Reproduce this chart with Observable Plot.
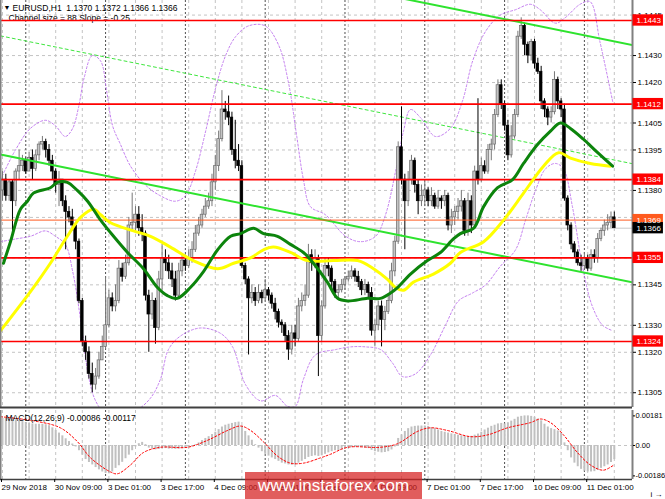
<!DOCTYPE html>
<html><head><meta charset="utf-8">
<script src="https://cdn.jsdelivr.net/npm/d3@7"></script>
<script src="https://cdn.jsdelivr.net/npm/@observablehq/plot@0.6"></script>
<style>
html,body{margin:0;padding:0;background:#fff;}
#chart{position:relative;width:665px;height:499px;overflow:hidden;background:#fff;}
#main{position:absolute;left:0;top:0;}
#macd{position:absolute;left:0;top:408px;}
#wm{position:absolute;left:245px;top:472px;width:177px;height:30px;background:rgba(214,30,30,0.72);color:#fff;font-family:'Liberation Sans',Arial,sans-serif;font-size:17px;line-height:28px;text-align:center;}
svg text{white-space:pre;}
</style></head><body>
<div id="chart"><div id="main"></div><div id="macd"></div><div id="wm">www.instaforex.com</div></div>
<script>
// ---------- DATA ----------
const opens = [1.1380,1.1384,1.1378,1.1383,1.1376,1.1387,1.1389,1.1391,1.1387,1.1392,
1.1388,1.1393,1.1397,1.1398,1.1395,1.1391,1.1387,1.1382,1.1384,1.1376,
1.1372,1.1370,1.1367,1.1361,1.1339,1.1324,1.1320,1.1312,1.1308,1.1311,
1.1317,1.1322,1.1330,1.1340,1.1337,1.1339,1.1351,1.1348,1.1353,1.1367,
1.1368,1.1371,1.1366,1.1364,1.1341,1.1334,1.1339,1.1329,1.1347,1.1355,
1.1353,1.1350,1.1347,1.1341,1.1350,1.1354,1.1352,1.1355,1.1358,1.1364,
1.1367,1.1371,1.1374,1.1376,1.1383,1.1389,1.1399,1.1410,1.1409,1.1407,
1.1395,1.1391,1.1389,1.1352,1.1347,1.1340,1.1342,1.1339,1.1342,1.1340,
1.1343,1.1341,1.1338,1.1335,1.1331,1.1330,1.1326,1.1321,1.1327,1.1325,
1.1337,1.1339,1.1341,1.1356,1.1353,1.1355,1.1326,1.1337,1.1352,1.1351,
1.1346,1.1342,1.1343,1.1345,1.1347,1.1348,1.1350,1.1348,1.1346,1.1343,
1.1345,1.1342,1.1328,1.1330,1.1337,1.1332,1.1335,1.1339,1.1350,1.1361,
1.1396,1.1384,1.1376,1.1384,1.1391,1.1382,1.1376,1.1378,1.1380,1.1376,
1.1378,1.1374,1.1377,1.1376,1.1378,1.1367,1.1370,1.1372,1.1374,1.1376,
1.1365,1.1376,1.1367,1.1387,1.1384,1.1389,1.1387,1.1395,1.1397,1.1408,
1.1419,1.1412,1.1404,1.1393,1.1400,1.1408,1.1437,1.1441,1.1434,1.1430,
1.1435,1.1427,1.1424,1.1413,1.1410,1.1407,1.1409,1.1421,1.1413,1.1410,
1.1377,1.1367,1.1360,1.1357,1.1353,1.1352,1.1355,1.1351,1.1356,1.1355,
1.1362,1.1365,1.1367,1.1368,1.1370];
const highs = [1.1387,1.1386,1.1384,1.1384,1.1388,1.1395,1.1393,1.1392,1.1394,1.1395,
1.1395,1.1398,1.1400,1.1399,1.1397,1.1393,1.1388,1.1387,1.1384,1.1378,
1.1374,1.1373,1.1368,1.1362,1.1340,1.1326,1.1322,1.1316,1.1314,1.1320,
1.1326,1.1348,1.1343,1.1342,1.1345,1.1354,1.1353,1.1356,1.1370,1.1379,
1.1374,1.1374,1.1371,1.1365,1.1343,1.1342,1.1340,1.1350,1.1360,1.1358,
1.1356,1.1353,1.1350,1.1353,1.1356,1.1356,1.1358,1.1361,1.1367,1.1370,
1.1373,1.1377,1.1379,1.1386,1.1393,1.1402,1.1417,1.1413,1.1415,1.1409,
1.1406,1.1397,1.1391,1.1353,1.1348,1.1345,1.1344,1.1345,1.1343,1.1347,
1.1344,1.1342,1.1340,1.1336,1.1332,1.1331,1.1328,1.1330,1.1330,1.1340,
1.1342,1.1345,1.1360,1.1358,1.1358,1.1356,1.1339,1.1355,1.1355,1.1352,
1.1347,1.1345,1.1347,1.1348,1.1350,1.1352,1.1351,1.1350,1.1347,1.1347,
1.1346,1.1344,1.1332,1.1339,1.1339,1.1337,1.1341,1.1353,1.1363,1.1398,
1.1411,1.1386,1.1387,1.1393,1.1392,1.1384,1.1382,1.1383,1.1381,1.1381,
1.1379,1.1380,1.1378,1.1380,1.1379,1.1373,1.1374,1.1377,1.1380,1.1377,
1.1379,1.1378,1.1389,1.1414,1.1392,1.1391,1.1397,1.1399,1.1410,1.1421,
1.1421,1.1413,1.1406,1.1404,1.1410,1.1439,1.1444,1.1442,1.1435,1.1436,
1.1436,1.1429,1.1426,1.1414,1.1411,1.1411,1.1424,1.1422,1.1414,1.1412,
1.1378,1.1368,1.1361,1.1358,1.1356,1.1357,1.1356,1.1358,1.1358,1.1364,
1.1366,1.1369,1.1371,1.1372,1.1372];
const lows = [1.1376,1.1376,1.1376,1.1364,1.1374,1.1384,1.1387,1.1386,1.1387,1.1384,
1.1387,1.1391,1.1395,1.1392,1.1389,1.1384,1.1379,1.1374,1.1374,1.1358,
1.1368,1.1365,1.1358,1.1338,1.1322,1.1317,1.1310,1.1305,1.1306,1.1310,
1.1317,1.1321,1.1329,1.1335,1.1335,1.1338,1.1346,1.1347,1.1352,1.1365,
1.1364,1.1363,1.1361,1.1339,1.1320,1.1332,1.1323,1.1328,1.1343,1.1350,
1.1347,1.1344,1.1339,1.1340,1.1348,1.1350,1.1351,1.1353,1.1357,1.1363,
1.1366,1.1370,1.1373,1.1374,1.1380,1.1387,1.1398,1.1406,1.1404,1.1393,
1.1388,1.1387,1.1351,1.1345,1.1319,1.1338,1.1337,1.1338,1.1338,1.1339,
1.1339,1.1336,1.1332,1.1329,1.1327,1.1324,1.1317,1.1319,1.1322,1.1324,
1.1335,1.1337,1.1340,1.1350,1.1351,1.1311,1.1324,1.1336,1.1348,1.1343,
1.1340,1.1340,1.1342,1.1343,1.1346,1.1347,1.1346,1.1344,1.1341,1.1341,
1.1340,1.1326,1.1322,1.1328,1.1322,1.1328,1.1334,1.1338,1.1348,1.1360,
1.1382,1.1358,1.1374,1.1382,1.1379,1.1371,1.1374,1.1374,1.1374,1.1374,
1.1373,1.1373,1.1373,1.1374,1.1365,1.1364,1.1367,1.1369,1.1372,1.1363,
1.1363,1.1364,1.1366,1.1382,1.1383,1.1386,1.1386,1.1391,1.1395,1.1407,
1.1410,1.1402,1.1391,1.1392,1.1399,1.1407,1.1436,1.1430,1.1427,1.1428,
1.1425,1.1423,1.1410,1.1407,1.1404,1.1405,1.1408,1.1410,1.1407,1.1376,
1.1365,1.1358,1.1355,1.1352,1.1350,1.1351,1.1350,1.1350,1.1353,1.1353,
1.1361,1.1363,1.1365,1.1366,1.1366];
const closes = [1.1384,1.1378,1.1383,1.1376,1.1387,1.1389,1.1391,1.1387,1.1392,1.1388,
1.1393,1.1397,1.1398,1.1395,1.1391,1.1387,1.1382,1.1384,1.1376,1.1372,
1.1370,1.1367,1.1361,1.1339,1.1324,1.1320,1.1312,1.1308,1.1311,1.1317,
1.1322,1.1330,1.1340,1.1337,1.1339,1.1351,1.1348,1.1353,1.1367,1.1368,
1.1371,1.1366,1.1364,1.1341,1.1334,1.1339,1.1329,1.1347,1.1355,1.1353,
1.1350,1.1347,1.1341,1.1350,1.1354,1.1352,1.1355,1.1358,1.1364,1.1367,
1.1371,1.1374,1.1376,1.1383,1.1389,1.1399,1.1410,1.1409,1.1407,1.1395,
1.1391,1.1389,1.1352,1.1347,1.1340,1.1342,1.1339,1.1342,1.1340,1.1343,
1.1341,1.1338,1.1335,1.1331,1.1330,1.1326,1.1321,1.1327,1.1325,1.1337,
1.1339,1.1341,1.1356,1.1353,1.1355,1.1326,1.1337,1.1352,1.1351,1.1346,
1.1342,1.1343,1.1345,1.1347,1.1348,1.1350,1.1348,1.1346,1.1343,1.1345,
1.1342,1.1328,1.1330,1.1337,1.1332,1.1335,1.1339,1.1350,1.1361,1.1396,
1.1384,1.1376,1.1384,1.1391,1.1382,1.1376,1.1378,1.1380,1.1376,1.1378,
1.1374,1.1377,1.1376,1.1378,1.1367,1.1370,1.1372,1.1374,1.1376,1.1365,
1.1376,1.1367,1.1387,1.1384,1.1389,1.1387,1.1395,1.1397,1.1408,1.1419,
1.1412,1.1404,1.1393,1.1400,1.1408,1.1437,1.1441,1.1434,1.1430,1.1435,
1.1427,1.1424,1.1413,1.1410,1.1407,1.1409,1.1421,1.1413,1.1410,1.1377,
1.1367,1.1360,1.1357,1.1353,1.1352,1.1355,1.1351,1.1356,1.1355,1.1362,
1.1365,1.1367,1.1368,1.1370,1.1366];

const macdHist = [0.00165,0.00165,0.00162,0.00160,0.00157,0.00151,0.00146,0.00140,0.00135,0.00132,
0.00130,0.00130,0.00130,0.00127,0.00121,0.00108,0.00092,0.00076,0.00059,0.00041,
0.00024,0.00009,-0.00009,-0.00032,-0.00059,-0.00086,-0.00104,-0.00119,-0.00135,-0.00149,
-0.00162,-0.00171,-0.00173,-0.00162,-0.00140,-0.00124,-0.00103,-0.00081,-0.00059,-0.00032,
-0.00009,0.00011,0.00019,0.00005,-0.00016,-0.00022,-0.00027,-0.00024,-0.00019,-0.00019,
-0.00022,-0.00022,-0.00024,-0.00022,-0.00019,-0.00016,-0.00011,-0.00005,0.00005,0.00016,
0.00030,0.00043,0.00054,0.00067,0.00081,0.00097,0.00113,0.00124,0.00130,0.00135,
0.00140,0.00143,0.00119,0.00086,0.00059,0.00032,0.00005,-0.00016,-0.00038,-0.00054,
-0.00065,-0.00076,-0.00086,-0.00097,-0.00108,-0.00113,-0.00119,-0.00121,-0.00119,-0.00108,
-0.00097,-0.00086,-0.00073,-0.00067,-0.00063,-0.00067,-0.00063,-0.00054,-0.00045,-0.00038,
-0.00032,-0.00030,-0.00027,-0.00022,-0.00016,-0.00013,-0.00011,-0.00011,-0.00013,-0.00016,
-0.00019,-0.00030,-0.00038,-0.00041,-0.00045,-0.00043,-0.00038,-0.00027,-0.00009,0.00043,
0.00065,0.00086,0.00103,0.00113,0.00117,0.00119,0.00119,0.00119,0.00117,0.00108,
0.00103,0.00095,0.00086,0.00081,0.00076,0.00071,0.00067,0.00063,0.00059,0.00056,
0.00054,0.00056,0.00063,0.00070,0.00081,0.00095,0.00106,0.00117,0.00124,0.00132,
0.00135,0.00132,0.00138,0.00149,0.00160,0.00173,0.00178,0.00181,0.00181,0.00178,
0.00173,0.00162,0.00151,0.00130,0.00113,0.00103,0.00097,0.00089,0.00076,0.00016,
-0.00032,-0.00076,-0.00108,-0.00130,-0.00146,-0.00157,-0.00162,-0.00162,-0.00160,-0.00151,
-0.00140,-0.00130,-0.00119,-0.00104,-0.00086];

const macdSignal = [[-0.6,0.00176],[9.3,0.00151],[17.4,0.00108],[22.6,0.00022],[26.5,-0.00076],[32.5,-0.00162],[34.6,-0.00173],[38.5,-0.00119],[42.4,-0.00043],[47.5,-0.00011],[55.6,-0.00011],[61.7,0.00032],[67.7,0.00092],[71.6,0.00119],[74.6,0.00092],[78.5,0.00022],[82.7,-0.00065],[86.6,-0.00108],[90.5,-0.00108],[95.6,-0.00076],[98.6,-0.00054],[103.8,-0.00011],[113.7,-0.00011],[118.8,0.00011],[124.8,0.00086],[128.7,0.00108],[133.8,0.00092],[140.8,0.00054],[145.9,0.00065],[151.9,0.00108],[158.8,0.00140],[161.8,0.00162],[164.8,0.00140],[168.7,0.00065],[172.9,-0.00043],[176.8,-0.00119],[180.7,-0.00151],[184,-0.00117]];

const maFast = [[0.3,1.1353],[2.4,1.1361],[5.4,1.1373],[7.5,1.1376],[9.3,1.1379],[14.4,1.1381],[16.5,1.1383],[19.5,1.1383],[22.5,1.1380],[25.6,1.1376],[29.5,1.1369],[33.4,1.1363],[37.6,1.1357],[42.4,1.1351],[46.6,1.1344],[49.6,1.1341],[52.6,1.1340],[56.5,1.1344],[60.5,1.1350],[64.7,1.1358],[68.6,1.1363],[71.6,1.1364],[75.5,1.1366],[78.5,1.1364],[82.7,1.1363],[86.6,1.1360],[90.5,1.1357],[93.5,1.1353],[97.7,1.1346],[100.8,1.1340],[103.8,1.1339],[109.8,1.1340],[113.7,1.1340],[116.7,1.1342],[118.8,1.1344],[122.7,1.1349],[127.8,1.1354],[131.7,1.1357],[135.6,1.1362],[137.7,1.1364],[141.7,1.1366],[144.7,1.1374],[148.9,1.1381],[153.4,1.1384],[156.7,1.1390],[160.9,1.1397],[164.8,1.1402],[167.8,1.1405],[170.8,1.1403],[174.7,1.1399],[179,1.1394],[183.5,1.1389]];
const maSlow = [[-0.6,1.1328],[9.3,1.1344],[14.4,1.1353],[19.5,1.1363],[23.5,1.1370],[27.4,1.1373],[29.5,1.1371],[32.5,1.1368],[39.4,1.1365],[44.5,1.1363],[50.5,1.1359],[57.4,1.1354],[64.7,1.1351],[69.5,1.1353],[74.6,1.1355],[78.5,1.1358],[81.5,1.1359],[86.6,1.1357],[91.7,1.1354],[99.5,1.1354],[106.8,1.1354],[111.6,1.1351],[115.8,1.1347],[118.2,1.1344],[120.6,1.1343],[123.6,1.1346],[129.6,1.1349],[134.7,1.1353],[137.7,1.1357],[144.7,1.1361],[150.7,1.1369],[156.7,1.1379],[162.7,1.1389],[167.2,1.1394],[170.8,1.1392],[176.8,1.1390],[182.8,1.1389]];

const bbUpper = [[-0.6,1.1384],[3.9,1.1395],[8.4,1.1403],[12.9,1.1406],[15.9,1.1404],[18.9,1.1400],[21.1,1.1403],[22.9,1.1411],[24.6,1.1422],[27,1.1430],[29.5,1.1428],[31.3,1.1417],[33.1,1.1404],[35.5,1.1397],[38.5,1.1389],[43,1.1382],[47.5,1.1378],[52,1.1376],[55,1.1378],[58,1.1387],[61.1,1.1402],[64.1,1.1418],[67.1,1.1430],[70.1,1.1437],[74,1.1441],[79,1.1441],[83,1.1434],[86,1.1420],[88.5,1.1400],[90.5,1.1384],[92.6,1.1374],[97.1,1.1371],[103.2,1.1363],[107.7,1.1361],[112.2,1.1363],[115.2,1.1371],[118.2,1.1387],[120.6,1.1402],[122.7,1.1410],[125.7,1.1407],[130.2,1.1400],[134.7,1.1403],[138.3,1.1413],[141.4,1.1428],[145.3,1.1439],[149.7,1.1445],[154.3,1.1447],[158.8,1.1449],[161.7,1.1447],[166.3,1.1442],[169.2,1.1444],[173.7,1.1449],[176.7,1.1450],[179.7,1.1435],[183.5,1.1413]];
const bbLower = [[-0.6,1.1361],[3.9,1.1362],[8.4,1.1363],[12.9,1.1365],[15.9,1.1363],[18.9,1.1360],[21.1,1.1350],[23.5,1.1332],[25.9,1.1311],[28,1.1302],[31,1.1297],[35.5,1.1295],[40,1.1298],[44.5,1.1303],[47.5,1.1310],[49.9,1.1321],[53.5,1.1326],[59.5,1.1329],[65.6,1.1327],[69.2,1.1322],[73.1,1.1308],[77.6,1.1302],[82.1,1.1304],[85.7,1.1300],[88.1,1.1300],[90.5,1.1310],[94.1,1.1319],[100.2,1.1321],[104.7,1.1322],[109.2,1.1322],[113.7,1.1321],[117.3,1.1316],[120.3,1.1311],[124.2,1.1312],[128.7,1.1319],[133.2,1.1330],[137.1,1.1339],[141.4,1.1342],[145.3,1.1345],[149.8,1.1352],[154.3,1.1358],[157.3,1.1369],[160.3,1.1380],[163.3,1.1388],[166.3,1.1390],[168.7,1.1388],[171.4,1.1374],[174.4,1.1352],[177.4,1.1337],[180.5,1.1330],[183.5,1.1328]];

const channelBars = [-0.6, 189.5];
const channelUpper = [1.14813, 1.14339];
const channelMiddle = [1.14373, 1.13899];
const channelLower = [1.13933, 1.13459];

const levelLines = [1.1443, 1.1412, 1.1384, 1.1355, 1.1324];
const markLevel = 1.1369;
const bidPrice = 1.1366;

const priceGrid = [1.1445,1.1430,1.1420,1.1405,1.1395,1.1380,1.1370,1.1355,1.1345,1.1330,1.1320,1.1305];
const priceTickLabels = [1.1445,1.1430,1.1420,1.1405,1.1395,1.1380,1.1345,1.1330,1.1320,1.1305];
const timeTickBars = [0,16,32,48,64,80,96,112,128,144,160,176];
const timeTickLabels = ["29 Nov 2018","30 Nov 09:00","3 Dec 01:00","3 Dec 17:00","4 Dec 09:00","5 Dec 01:00","5 Dec 17:00","6 Dec 09:00","7 Dec 01:00","7 Dec 17:00","10 Dec 09:00","11 Dec 01:00"];
const gridBars = [0,8,16,24,32,40,48,56,64,72,80,88,96,104,112,120,128,136,144,152,160,168,176,184];
const daySeparatorBars = [7,31,55,79,103,127,151,175];
const macdTicks = [0.00181, 0, -0.00186];
const macdTickLabels = ["0.00181","0.00","-0.00186"];

const headerText = "EURUSD,H1  1.1370 1.1372 1.1366 1.1366";
const channelText = "Channel size = 88 Slope = -0.25";
const macdText = "MACD(12,26,9) -0.00086 -0.00117";

// ---------- BUILD ----------
const font = "'Liberation Sans', Arial, sans-serif";
const xDomain = [-0.6, 189.47];
const yDomain = [1.129953, 1.145041];
const bars = closes.map((c, i) => ({i, o: opens[i], h: highs[i], l: lows[i], c, up: c >= opens[i]}));
const pts = arr => arr.map(([i, p]) => ({i, p}));
const chan = vals => channelBars.map((i, k) => ({i, p: vals[k]}));
const boxes = [
  ...levelLines.map(p => ({p, fill: "#ff0000"})),
  {p: markLevel, fill: "#ff5a1e"},
  {p: bidPrice, fill: "#000000"}
];
const boxH = 0.00021;

const main = Plot.plot({
  width: 665, height: 408,
  marginLeft: 0, marginRight: 33, marginTop: 0, marginBottom: 1,
  style: {fontFamily: font, fontSize: "8px", background: "transparent", color: "#000", overflow: "visible"},
  x: {domain: xDomain, axis: null},
  y: {domain: yDomain, axis: null},
  marks: [
    Plot.ruleY(priceGrid, {stroke: "#c4c4c4", strokeDasharray: "3,3"}),
    Plot.ruleX(gridBars, {stroke: "#c4c4c4", strokeDasharray: "3,3"}),
    Plot.ruleX(daySeparatorBars, {stroke: "#505050", strokeDasharray: "2,2"}),
    Plot.text(["▼"], {frameAnchor: "top-left", dx: 3, dy: 5, fontSize: 7, fill: "#000"}),
    Plot.text([headerText], {frameAnchor: "top-left", dx: 12, dy: 4, fontSize: 8.5, fill: "#000"}),
    Plot.text([channelText], {frameAnchor: "top-left", dx: 8, dy: 14, fontSize: 8.5, fill: "#000"}),
    Plot.ruleY([bidPrice], {stroke: "#c8c8c8", strokeWidth: 1}),
    Plot.line(pts(bbUpper), {x: "i", y: "p", stroke: "#c47ff0", strokeDasharray: "2,2", strokeWidth: 1, curve: "catmull-rom", clip: true}),
    Plot.line(pts(bbLower), {x: "i", y: "p", stroke: "#c47ff0", strokeDasharray: "2,2", strokeWidth: 1, curve: "catmull-rom", clip: true}),
    Plot.line(chan(channelMiddle), {x: "i", y: "p", stroke: "#3ee63e", strokeDasharray: "3,3", strokeWidth: 1, clip: true}),
    Plot.ruleX(bars, {x: "i", y1: "l", y2: "h", stroke: d => d.up ? "#777" : "#000", strokeWidth: 1}),
    Plot.rect(bars, {
      x1: d => d.i - 0.4, x2: d => d.i + 0.4,
      y1: "o", y2: d => Math.abs(d.c - d.o) < 0.00004 ? d.o - 0.00004 : d.c,
      fill: d => d.up ? "#c4c4c4" : "#000", stroke: d => d.up ? "#6a6a6a" : "#000", strokeWidth: 0.7
    }),
    Plot.line(chan(channelUpper), {x: "i", y: "p", stroke: "#2ee32e", strokeWidth: 2, clip: true}),
    Plot.line(chan(channelLower), {x: "i", y: "p", stroke: "#2ee32e", strokeWidth: 2, clip: true}),
    Plot.ruleY(levelLines, {stroke: "#ff0000", strokeWidth: 1.6}),
    Plot.ruleY([markLevel], {stroke: "#ff5a1e", strokeWidth: 1}),
    Plot.line(pts(maSlow), {x: "i", y: "p", stroke: "#ffff00", strokeWidth: 3, curve: "catmull-rom", clip: true}),
    Plot.line(pts(maFast), {x: "i", y: "p", stroke: "#0c840c", strokeWidth: 3, curve: "catmull-rom", clip: true}),
    Plot.ruleX([xDomain[0]], {stroke: "#808080", strokeWidth: 2}),
    Plot.ruleX([xDomain[1]], {stroke: "#808080", strokeWidth: 2}),
    Plot.ruleY([yDomain[0]], {stroke: "#404040", strokeWidth: 2}),
    Plot.axisY(priceTickLabels, {anchor: "right", tickSize: 3, tickPadding: 2, tickFormat: d => d.toFixed(4), fontSize: 8}),
    Plot.rect(boxes, {x1: xDomain[1] + 0.15, x2: xDomain[1] + 9.3, y1: d => d.p - boxH, y2: d => d.p + boxH, fill: "fill"}),
    Plot.text(boxes, {x: xDomain[1] + 1.2, y: "p", text: d => d.p.toFixed(4), textAnchor: "start", fill: "#fff", fontSize: 8})
  ]
});
document.getElementById("main").appendChild(main);

const macdBars = macdHist.map((v, i) => ({i, v}));
const macd = Plot.plot({
  width: 665, height: 91,
  marginLeft: 0, marginRight: 33, marginTop: 2, marginBottom: 20,
  style: {fontFamily: font, fontSize: "8px", background: "transparent", color: "#000", overflow: "visible"},
  x: {domain: xDomain, axis: null},
  y: {domain: [-0.00208, 0.00214], axis: null},
  marks: [
    Plot.ruleY([0], {stroke: "#c4c4c4", strokeDasharray: "3,3"}),
    Plot.ruleX(gridBars, {stroke: "#c4c4c4", strokeDasharray: "3,3"}),
    Plot.ruleX(daySeparatorBars, {stroke: "#505050", strokeDasharray: "2,2"}),
    Plot.ruleX(macdBars, {x: "i", y1: 0, y2: "v", stroke: "#c0c0c0", strokeWidth: 2}),
    Plot.line(pts(macdSignal), {x: "i", y: "p", stroke: "#ff0000", strokeDasharray: "2,2", strokeWidth: 1, curve: "catmull-rom"}),
    Plot.text([macdText], {frameAnchor: "top-left", dx: 5, dy: 4, fontSize: 8.5, fill: "#000"}),
    Plot.ruleX([xDomain[0]], {stroke: "#808080", strokeWidth: 2}),
    Plot.ruleX([xDomain[1]], {stroke: "#808080", strokeWidth: 2}),
    Plot.ruleY([-0.00208], {stroke: "#404040", strokeWidth: 1.5}),
    Plot.axisY(macdTicks, {anchor: "right", tickSize: 2, tickPadding: 1, tickFormat: d => macdTickLabels[macdTicks.indexOf(d)], fontSize: 7.5}),
    Plot.axisX(timeTickBars, {anchor: "bottom", tickSize: 3, tickPadding: 2, textAnchor: "start", dx: -1, tickFormat: d => timeTickLabels[timeTickBars.indexOf(d)], fontSize: 8})
  ]
});
document.getElementById("macd").appendChild(macd);
</script>
</body></html>
